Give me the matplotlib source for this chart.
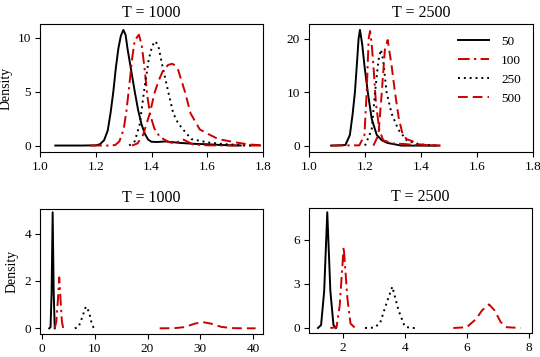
import matplotlib
matplotlib.use("Agg")
import matplotlib.pyplot as plt

plt.rcParams['font.family'] = ['Liberation Serif', 'DejaVu Serif']

labels = ["50", "100", "250", "500"]
titles = ["T = 1000", "T = 2500", "T = 1000", "T = 2500"]

# ---- Top-left: T = 1000 ----
tl_x50 = [1.055, 1.15, 1.2, 1.215, 1.23, 1.243, 1.253, 1.263, 1.272, 1.281, 1.29, 1.299, 1.307, 1.314, 1.327, 1.34, 1.352, 1.364, 1.376, 1.388, 1.40, 1.42, 1.45, 1.5, 1.56, 1.6, 1.65, 1.72]
tl_y50 = [0, 0, 0.02, 0.12, 0.5, 1.4, 3.0, 5.0, 7.2, 9.0, 10.2, 10.75, 10.3, 9.0, 7.0, 5.0, 3.3, 2.0, 1.1, 0.55, 0.35, 0.33, 0.38, 0.25, 0.15, 0.12, 0.05, 0.0]
tl_x100 = [1.18, 1.25, 1.27, 1.285, 1.30, 1.31, 1.32, 1.33, 1.34, 1.355, 1.365, 1.375, 1.385, 1.395, 1.41, 1.43, 1.46, 1.48, 1.50, 1.515, 1.53, 1.55, 1.6, 1.7, 1.8]
tl_y100 = [0, 0, 0.05, 0.4, 1.5, 3.2, 5.5, 8.0, 9.8, 10.3, 9.3, 7.2, 4.6, 2.9, 1.6, 0.8, 0.35, 0.2, 0.4, 0.55, 0.35, 0.1, 0.02, 0, 0]
tl_x250 = [1.32, 1.34, 1.358, 1.373, 1.39, 1.403, 1.414, 1.425, 1.44, 1.46, 1.478, 1.495, 1.513, 1.543, 1.6, 1.65, 1.72, 1.76]
tl_y250 = [0, 0.4, 2.0, 5.0, 8.0, 9.3, 9.7, 9.2, 7.3, 5.0, 3.0, 2.1, 1.5, 0.6, 0.3, 0.15, 0.05, 0]
tl_x500 = [1.33, 1.35, 1.37, 1.394, 1.412, 1.43, 1.442, 1.46, 1.475, 1.487, 1.496, 1.52, 1.54, 1.573, 1.609, 1.64, 1.7, 1.75, 1.8]
tl_y500 = [0, 0.2, 1.0, 3.0, 5.0, 6.3, 7.0, 7.5, 7.6, 7.4, 7.0, 5.0, 3.0, 1.5, 1.0, 0.6, 0.3, 0.1, 0.02]

# ---- Top-right: T = 2500 ----
tr_x50 = [1.079, 1.13, 1.146, 1.156, 1.164, 1.172, 1.177, 1.182, 1.19, 1.198, 1.21, 1.224, 1.242, 1.26, 1.28, 1.3, 1.33, 1.456]
tr_y50 = [0, 0.1, 2.0, 6.0, 10.0, 16.0, 20.0, 21.7, 19.0, 15.0, 10.0, 5.0, 2.0, 1.0, 0.5, 0.3, 0.0, 0.0]
tr_x100 = [1.08, 1.18, 1.198, 1.206, 1.213, 1.218, 1.224, 1.23, 1.239, 1.251, 1.265, 1.3, 1.34, 1.38, 1.47]
tr_y100 = [0, 0.05, 2.0, 10.0, 20.0, 21.5, 19.0, 15.0, 8.0, 3.0, 1.0, 0.4, 0.3, 0.1, 0]
tr_x250 = [1.2, 1.224, 1.236, 1.248, 1.257, 1.265, 1.277, 1.295, 1.319, 1.349, 1.38, 1.42, 1.46]
tr_y250 = [0, 3.0, 10.0, 16.0, 18.0, 16.0, 10.0, 6.0, 3.0, 1.0, 0.4, 0.1, 0]
tr_x500 = [1.23, 1.248, 1.26, 1.271, 1.281, 1.295, 1.307, 1.321, 1.335, 1.349, 1.36, 1.37, 1.38, 1.42, 1.47]
tr_y500 = [0, 2.0, 10.0, 18.0, 19.8, 15.0, 10.0, 5.0, 2.0, 1.2, 1.0, 0.8, 0.3, 0.1, 0]

# ---- Bottom-left: T = 1000 ----
bl_x50 = [1.35, 1.6, 1.8, 2.0, 2.2, 2.4]
bl_y50 = [0, 0.05, 1.5, 4.9, 1.5, 0]
bl_x100 = [2.4, 2.7, 3.0, 3.25, 3.5, 3.75, 4.0]
bl_y100 = [0, 0.3, 1.2, 2.15, 1.2, 0.3, 0]
bl_x250 = [6.2, 6.9, 7.5, 8.3, 8.9, 9.3, 9.8]
bl_y250 = [0, 0.05, 0.4, 0.92, 0.7, 0.3, 0]
bl_x500 = [22.3, 25, 27, 29, 30.5, 32, 34, 36, 38, 40.5]
bl_y500 = [0, 0.005, 0.05, 0.2, 0.26, 0.2, 0.06, 0.01, 0, 0]

# ---- Bottom-right: T = 2500 ----
br_x50 = [1.2, 1.3, 1.4, 1.5, 1.6, 1.7, 1.78]
br_y50 = [0, 0.2, 2.5, 7.85, 2.5, 0.2, 0]
br_x100 = [1.6, 1.8, 1.9, 2.03, 2.15, 2.25, 2.4, 2.5]
br_y100 = [0, 0.05, 1.5, 5.5, 2.0, 0.3, 0, 0]
br_x250 = [2.72, 3.0, 3.2, 3.4, 3.6, 3.8, 4.0, 4.2, 4.43]
br_y250 = [0, 0.02, 0.3, 1.6, 2.8, 1.2, 0.1, 0, 0]
br_x500 = [5.57, 6.0, 6.3, 6.5, 6.72, 6.9, 7.1, 7.3, 7.75]
br_y500 = [0, 0.05, 0.6, 1.2, 1.6, 1.2, 0.4, 0.05, 0]

RED = "#cc0000"
styles = [
    dict(color="black", linestyle="-"),
    dict(color=RED, linestyle=(0, (6, 2.2, 1.2, 2.2))),
    dict(color="black", linestyle=(0, (1, 2))),
    dict(color=RED, linestyle=(0, (5, 2.6))),
]

panels = [
    ([(tl_x50, tl_y50), (tl_x100, tl_y100), (tl_x250, tl_y250), (tl_x500, tl_y500)],
     (1.0, 1.8), (-0.6, 11.3), [1.0, 1.2, 1.4, 1.6, 1.8], ["1.0", "1.2", "1.4", "1.6", "1.8"], [0, 5, 10]),
    ([(tr_x50, tr_y50), (tr_x100, tr_y100), (tr_x250, tr_y250), (tr_x500, tr_y500)],
     (1.0, 1.8), (-1.2, 22.8), [1.0, 1.2, 1.4, 1.6, 1.8], ["1.0", "1.2", "1.4", "1.6", "1.8"], [0, 10, 20]),
    ([(bl_x50, bl_y50), (bl_x100, bl_y100), (bl_x250, bl_y250), (bl_x500, bl_y500)],
     (-0.4, 41.9), (-0.24, 5.04), [0, 10, 20, 30, 40], ["0", "10", "20", "30", "40"], [0, 2, 4]),
    ([(br_x50, br_y50), (br_x100, br_y100), (br_x250, br_y250), (br_x500, br_y500)],
     (0.91, 8.11), (-0.34, 8.14), [2, 4, 6, 8], ["2", "4", "6", "8"], [0, 3, 6]),
]

W, H = 540, 357
rects = [
    (40, 24, 263, 152),
    (309, 24, 533, 152),
    (40, 209, 263, 334),
    (309, 208, 532, 333),
]

fig = plt.figure(figsize=(5.4, 3.57), dpi=100)
for i, (series, xl, yl, xt, xtl, yt) in enumerate(panels):
    l, t, r, b = rects[i]
    ax = fig.add_axes([l / W, 1 - b / H, (r - l) / W, (b - t) / H])
    for j, (xs, ys) in enumerate(series):
        ax.plot(xs, ys, linewidth=1.4, label=labels[j], **styles[j])
    ax.set_xlim(*xl)
    ax.set_ylim(*yl)
    ax.set_xticks(xt)
    ax.set_xticklabels(xtl)
    ax.set_yticks(yt)
    ax.tick_params(labelsize=9.5, length=3.5, width=0.8, direction="out", pad=3)
    for s in ax.spines.values():
        s.set_linewidth(0.8)
    ax.set_title(titles[i], fontsize=11.5, pad=5)
    if i in (0, 2):
        ax.set_ylabel("Density", fontsize=10, labelpad=4)
    if i == 1:
        ax.legend(loc="upper right", frameon=False, fontsize=9.5, handlelength=2.4,
                  labelspacing=0.5, borderaxespad=0.5, handletextpad=0.9)

fig.savefig("out.png", dpi=100)
